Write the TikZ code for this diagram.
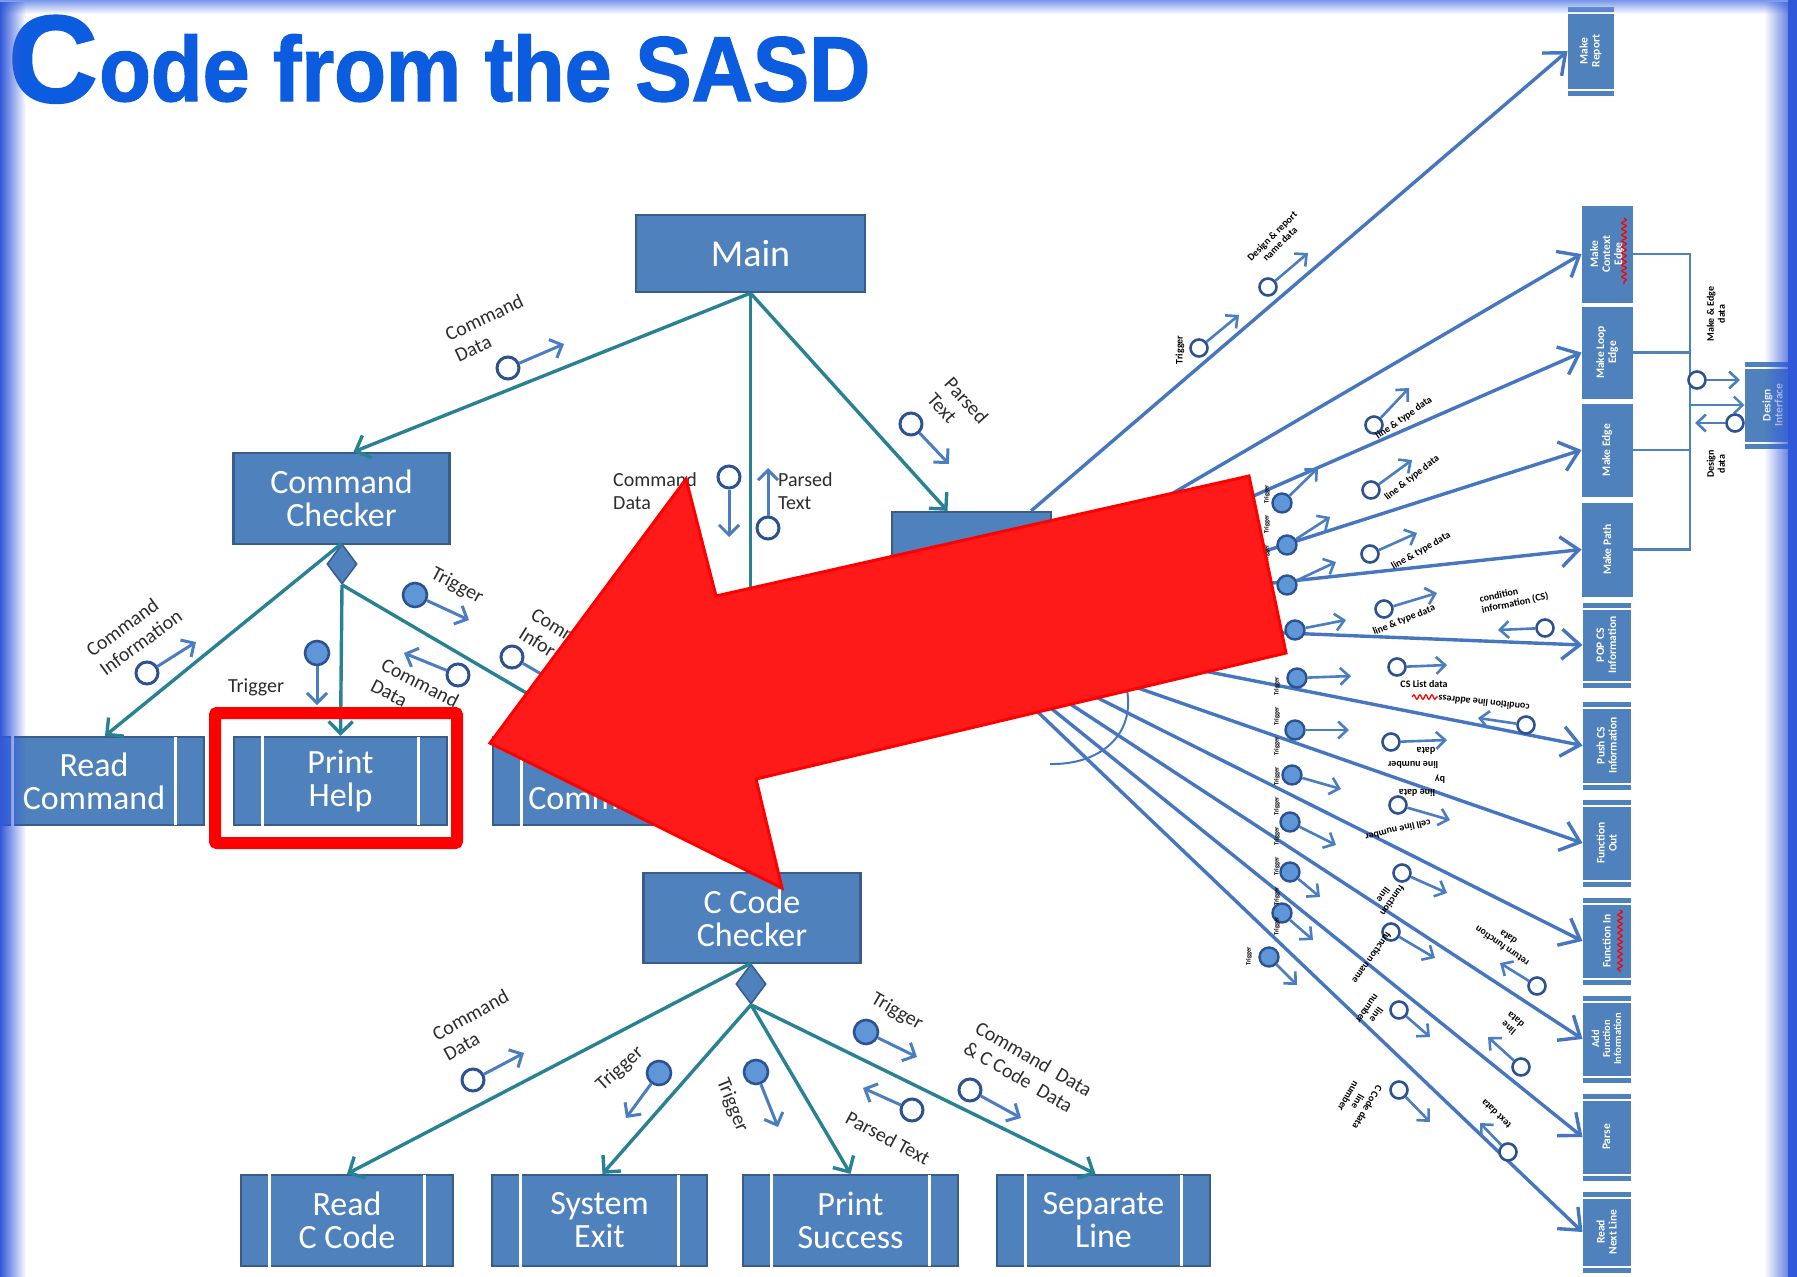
\documentclass[tikz,border=0pt]{standalone}
\usepackage{fontspec}
\setmainfont{Carlito}
\newfontfamily\headfont{Liberation Sans}[FakeBold=1.6]
\usetikzlibrary{arrows.meta,calc,fadings,shapes.geometric,decorations.pathmorphing}

\definecolor{boxfill}{RGB}{79,129,189}
\definecolor{boxedge}{RGB}{56,93,138}
\definecolor{linkteal}{RGB}{40,130,148}
\definecolor{couple}{RGB}{74,126,193}
\definecolor{ringedge}{RGB}{44,82,146}
\definecolor{ringfill}{RGB}{95,150,215}
\definecolor{fanline}{RGB}{70,118,192}
\definecolor{labelgray}{RGB}{45,45,45}
\definecolor{titleblue}{RGB}{12,92,224}
\definecolor{alertred}{RGB}{255,26,26}
\definecolor{edgeblue}{RGB}{50,88,218}
\definecolor{topblue}{RGB}{120,150,235}

\tikzset{
  procbox/.style={draw=boxedge, line width=2.2pt, fill=boxfill, text=white, align=center,
    inner sep=0pt, font=\fontsize{34}{33}\selectfont},
  sidebar/.style={draw=white, line width=3pt, shorten <=1.2pt, shorten >=1.2pt},
  decis/.style={shape=diamond, draw=boxedge, fill=boxfill, line width=1.6pt,
    minimum width=30pt, minimum height=40pt, inner sep=0pt},
  link/.style={draw=linkteal, line width=3.4pt, -{Straight Barb[length=12pt,width=24pt]}},
  fan/.style={draw=fanline, line width=3.4pt, -{Straight Barb[length=18pt,width=30pt]}},
  bus/.style={draw=boxfill, line width=2.4pt},
  ringopen/.style={circle, draw=ringedge, fill=white, line width=3pt, minimum size=22pt, inner sep=0pt},
  ringfull/.style={circle, draw=ringedge, fill=ringfill, line width=2.6pt, minimum size=24pt, inner sep=0pt},
  flow/.style={draw=couple, line width=3pt, -{Straight Barb[length=10pt,width=20pt]}},
  fanopen/.style={circle, draw=ringedge, fill=white, line width=2.6pt, minimum size=17pt, inner sep=0pt},
  fanfull/.style={circle, draw=ringedge, fill=ringfill, line width=2.4pt, minimum size=19pt, inner sep=0pt},
  fanflow/.style={draw=couple, line width=2.6pt, -{Straight Barb[length=9pt,width=17pt]}},
  lbl/.style={text=labelgray, inner sep=0pt, align=left, font=\fontsize{20}{23}\selectfont},
  tinylbl/.style={text=black, inner sep=0pt, align=center, font=\bfseries\fontsize{10}{11}\selectfont},
  triglbl/.style={text=black, inner sep=0pt, rotate=90, font=\bfseries\fontsize{6.5}{7}\selectfont},
  colbox/.style={draw=boxfill, line width=1pt, fill=boxfill, text=white, rotate=90, align=center,
    inner sep=0pt, font=\bfseries\fontsize{11.5}{12}\selectfont},
  typo/.style={draw=red, line width=1.3pt, decorate, decoration={snake, amplitude=2.2pt, segment length=6pt}},
}

% module box with the two inner side bars of a library module
\newcommand{\modbox}[5]{%
  \node[procbox, minimum width=#3pt, minimum height=#4pt] (#1) at (#2) {#5};
  \draw[sidebar] ([xshift=30pt]#1.north west) -- ([xshift=30pt]#1.south west)
                 ([xshift=-30pt]#1.north east) -- ([xshift=-30pt]#1.south east);
}
% horizontal bars at the ends of a rotated column module
\newcommand{\colbars}[1]{%
  \draw[draw=white, line width=2pt]
    ($(#1.north east)!6pt!(#1.north west)$) -- ($(#1.south east)!6pt!(#1.south west)$)
    ($(#1.north west)!6pt!(#1.north east)$) -- ($(#1.south west)!6pt!(#1.south east)$);
}
% data / control couple: name, ring position, arrow tip, ring style, arrow style
\newcommand{\couple}[5]{%
  \node[#4] (#1) at (#2) {};
  \coordinate (#1-tip) at (#3);
  \draw[#5] (#1) -- (#1-tip);
}

\begin{document}
\begin{tikzpicture}[x=1pt,y=-1pt]
\useasboundingbox (0,0) rectangle (1797,1277);
\fill[white] (0,0) rectangle (1797,1277);

% ---------------- modules of the left chart ----------------
\node[procbox, minimum width=229pt, minimum height=77pt, font=\fontsize{38}{38}\selectfont] (main) at (750.5,253.5) {Main};
\node[procbox, minimum width=216pt, minimum height=91pt] (cmdchk) at (341.5,498.5) {Command\\Checker};
\node[procbox, minimum width=159pt, minimum height=106pt] (parser) at (971.5,565) {};
\node[procbox, minimum width=217pt, minimum height=90pt] (ccc) at (752,918) {C Code\\Checker};

\modbox{readcmd}{94,781}{220}{88}{Read\\Command}
\modbox{printhelp}{340.5,781}{213}{88}{Print\\Help}
\modbox{chkcmd}{599.5,781}{213}{88}{\phantom{Command}\\Command}
\modbox{readc}{347,1220.5}{212}{91}{Read\\C Code}
\modbox{sysexit}{599.5,1220.5}{215}{91}{System\\Exit}
\modbox{psuccess}{850.5,1220.5}{215}{91}{Print\\Success}
\modbox{sepline}{1103.5,1220.5}{213}{91}{Separate\\Line}

\node[decis] (dm1) at (342,564) {};
\node[decis] (dm2) at (751,984) {};

% ---------------- calls of the left chart ----------------
\draw[link] (main.south) -- ([xshift=12pt]cmdchk.north);
\draw[link] (main.south) -- (main.south |- ccc.north);
\draw[link] (main.south) -- ([xshift=-24pt]parser.north);
\draw[link] (dm1.north) -- ([xshift=11pt]readcmd.north);
\draw[link] (dm1.south) -- (printhelp.north);
\draw[link] (dm1.south) -- (chkcmd.north);
\draw[link] (dm2.north) -- (readc.north);
\draw[link] (dm2.south) -- ([xshift=3pt]sysexit.north);
\draw[link] (dm2.south) -- (psuccess.north);
\draw[link] (dm2.south) -- ([xshift=-8pt]sepline.north);

% ---------------- couples of the left chart ----------------
\couple{cpa}{508,368}{564,344}{ringopen}{flow}
\couple{cpb}{729,477}{729,537}{ringopen}{flow}
\couple{cpc}{768,528}{768,468}{ringopen}{flow}
\couple{cpd}{911,424}{949,464}{ringopen}{flow}
\couple{cpe}{147,673}{196,642}{ringopen}{flow}
\couple{cpf}{317,653}{317,705}{ringfull}{flow}
\couple{cpg}{415,595}{469,620}{ringfull}{flow}
\couple{cph}{458,675}{404,653}{ringopen}{flow}
\couple{cpi}{512,657}{560,685}{ringopen}{flow}
\couple{cpj}{473,1080}{524,1053}{ringopen}{flow}
\couple{cpk}{659,1073}{626,1118}{ringfull}{flow}
\couple{cpl}{756,1072}{778,1127}{ringfull}{flow}
\couple{cpm}{912,1110}{863,1088}{ringopen}{flow}
\couple{cpn}{866,1032}{917,1057}{ringfull}{flow}
\couple{cpo}{970,1090}{1021,1118}{ringopen}{flow}

\node[lbl, rotate=25] (lcd1) at (489,328) {Command\\Data};
\node[lbl, anchor=north west] (lcd2) at (613,472) {Command\\Data};
\node[lbl, anchor=north west] (lpt1) at (778,472) {Parsed\\Text};
\node[lbl, rotate=-48] (lpt2) at (958,408) {Parsed\\Text};
\node[lbl, rotate=36] (lci1) at (134,633) {Command\\Information};
\node[lbl, anchor=base west] (ltg1) at (228,692) {Trigger};
\node[lbl, rotate=-28] (ltg2) at (457,586) {Trigger};
\node[lbl, rotate=-27] (lcd3) at (415,693) {Command\\Data};
\node[lbl, rotate=-32, anchor=north west] (lci2) at (537,606) {Command\\Information};
\node[lbl, rotate=29] (lcd4) at (476,1025) {Command\\Data};
\node[lbl, rotate=42] (ltg3) at (620,1069) {Trigger};
\node[lbl, rotate=-68] (ltg4) at (732,1105) {Trigger};
\node[lbl, rotate=-28] (lpt3) at (888,1138) {Parsed Text};
\node[lbl, rotate=-30] (ltg5) at (897,1012) {Trigger};
\node[lbl, rotate=-30] (lcd5) at (1028,1069) {Command~~Data\\\& C Code~~Data};

% ---------------- right column of modules ----------------
\node[colbox, minimum width=88pt, minimum height=45pt] (mkreport) at (1590.5,51) {Make\\Report};
\node[colbox, minimum width=96pt, minimum height=50pt] (ctxedge) at (1607,254) {Make\\Context\\Edge};
\node[colbox, minimum width=91pt, minimum height=50pt] (loopedge) at (1607,352.5) {Make Loop\\Edge};
\node[colbox, minimum width=92pt, minimum height=50pt] (mkedge) at (1607,450) {Make Edge};
\node[colbox, minimum width=93pt, minimum height=50pt] (mkpath) at (1607,549.5) {Make Path};
\node[colbox, minimum width=84pt, minimum height=47pt] (popcs) at (1606.5,645) {POP CS\\Information};
\node[colbox, minimum width=87pt, minimum height=47pt] (pushcs) at (1606.5,745.5) {Push CS\\Information};
\node[colbox, minimum width=86pt, minimum height=47pt] (fout) at (1606.5,843) {Function\\Out};
\node[colbox, minimum width=86pt, minimum height=47pt] (fin) at (1606.5,941) {Function In};
\node[colbox, minimum width=86pt, minimum height=47pt, font=\bfseries\fontsize{10.5}{11}\selectfont] (addfn) at (1606.5,1039) {Add\\Function\\Information};
\node[colbox, minimum width=86pt, minimum height=47pt] (parse) at (1606.5,1137) {Parse};
\node[colbox, minimum width=80pt, minimum height=47pt] (rnl) at (1606.5,1232) {Read\\Next Line};
\node[colbox, minimum width=86pt, minimum height=55pt] (design) at (1772.5,405) {Design\\Interface};
\foreach \m in {mkreport,popcs,pushcs,fout,fin,addfn,parse,rnl,design} {\colbars{\m}}

\draw[typo] (1624,218) -- (1624,284);
\draw[typo] (1620,910) -- (1620,972);

% bus from the edge makers to the design interface
\coordinate (busx) at (1690,255);
\draw[bus] (ctxedge.south) -- (ctxedge.south -| busx) -- (mkpath.south -| busx) -- (mkpath.south);
\draw[bus] (loopedge.south) -- (loopedge.south -| busx);
\draw[bus] (mkedge.south) -- (mkedge.south -| busx);
\draw[bus, -{Straight Barb[length=9pt,width=17pt]}] (design.north -| busx) -- (design.north);
\couple{mkdata}{1697,380}{1740,380}{fanopen}{fanflow}
\couple{dsdata}{1735,423}{1695,423}{fanopen}{fanflow}
\node[tinylbl, rotate=90] (lbmk) at (1716,314) {Make \& Edge\\data};
\node[tinylbl, rotate=90] (lbds) at (1716,464) {Design\\data};

% ---------------- calls fanning out of the parser ----------------
\coordinate (fanhub) at ($(parser.south)+(-31,0)$);
\draw[fan] ([xshift=-21pt]parser.north east) -- (mkreport.north);
\draw[fan] ($(parser.north east)+(0,53)$) -- (ctxedge.north);
\draw[fan] ($(parser.north east)+(0,73)$) -- (loopedge.north);
\draw[fan] (parser.south east) -- (mkedge.north);
\foreach \t in {mkpath,popcs,pushcs,fout,fin,addfn,parse,rnl} {\draw[fan] (fanhub) -- (\t.north);}
\draw[draw=fanline, line width=2pt] (1127,690) .. controls (1135,735) and (1100,765) .. (1050,764);

% control couples next to the parser
\couple{tg1}{1282,503}{1318,468}{fanfull}{fanflow}
\couple{tg2}{1287,545}{1330,517}{fanfull}{fanflow}
\couple{tg3}{1287,585}{1336,562}{fanfull}{fanflow}
\couple{tg4}{1295,630}{1346,620}{fanfull}{fanflow}
\couple{tg5}{1297,678}{1351,676}{fanfull}{fanflow}
\couple{tg6}{1295,730}{1349,730}{fanfull}{fanflow}
\couple{tg7}{1292,775}{1341,789}{fanfull}{fanflow}
\couple{tg8}{1290,822}{1336,845}{fanfull}{fanflow}
\couple{tg9}{1290,872}{1320,897}{fanfull}{fanflow}
\couple{tg10}{1282,913}{1313,940}{fanfull}{fanflow}
\couple{tg11}{1269,957}{1297,985}{fanfull}{fanflow}

% data couples along the fan
\couple{dr1}{1199,348}{1239,315}{fanopen}{fanflow}
\couple{dr2}{1268,287}{1308,253}{fanopen}{fanflow}
\couple{lt1}{1374,425}{1409,388}{fanopen}{fanflow}
\couple{lt2}{1371,490}{1412,460}{fanopen}{fanflow}
\couple{lt3}{1370,554}{1417,533}{fanopen}{fanflow}
\couple{lt4}{1384,609}{1437,593}{fanopen}{fanflow}
\couple{ci1}{1545,628}{1498,630}{fanopen}{fanflow}
\couple{cs1}{1397,667}{1447,665}{fanopen}{fanflow}
\couple{cl1}{1526,725}{1478,718}{fanopen}{fanflow}
\couple{ln1}{1391,742}{1447,740}{fanopen}{fanflow}
\couple{ln2}{1398,805}{1450,820}{fanopen}{fanflow}
\couple{fn1}{1402,873}{1447,893}{fanopen}{fanflow}
\couple{fn2}{1391,932}{1435,958}{fanopen}{fanflow}
\couple{rt1}{1537,986}{1500,963}{fanopen}{fanflow}
\couple{fn3}{1399,1010}{1430,1037}{fanopen}{fanflow}
\couple{ld1}{1521,1067}{1488,1037}{fanopen}{fanflow}
\couple{cc1}{1399,1090}{1430,1122}{fanopen}{fanflow}
\couple{td1}{1508,1152}{1480,1123}{fanopen}{fanflow}

% labels of the fan couples
\node[tinylbl, rotate=90] (ftrig) at (1180,350) {Trigger};
\node[tinylbl, rotate=45] (fdr) at (1276,240) {Design \& report\\name data};
\node[tinylbl, rotate=35] (flt1) at (1404,418) {line \& type data};
\node[tinylbl, rotate=38] (flt2) at (1412,478) {line \& type data};
\node[tinylbl, rotate=30] (flt3) at (1421,551) {line \& type data};
\node[tinylbl, rotate=22] (flt4) at (1404,620) {line \& type data};
\node[tinylbl, rotate=12, align=left] (fci) at (1514,598) {condition\\information (CS)};
\node[tinylbl] (fcs) at (1424,684) {CS List data};
\node[tinylbl, rotate=174] (fcl) at (1484,703) {condition line address};
\draw[typo] (1412,697) -- (1438,697);
\node[tinylbl, rotate=180] (fln1) at (1426,751) {data};
\node[tinylbl, rotate=180] (fln2) at (1413,765) {line number};
\node[tinylbl, rotate=180] (fln3) at (1440,779) {by};
\node[tinylbl, rotate=180] (fln4) at (1417,793) {line data};
\node[tinylbl, rotate=193] (fln5) at (1398,830) {cell line number};
\node[tinylbl, rotate=235] (ffn1) at (1388,898) {function\\line};
\node[tinylbl, rotate=235] (ffn2) at (1372,958) {function name};
\node[tinylbl, rotate=235] (ffn3) at (1372,1012) {line\\number};
\node[tinylbl, rotate=145] (frt) at (1505,942) {return function\\data};
\node[tinylbl, rotate=140] (fld) at (1512,1024) {line\\data};
\node[tinylbl, rotate=240] (fcc) at (1358,1102) {C Code data\\line\\number};
\node[tinylbl, rotate=136] (ftd) at (1496,1114) {text data};

% stacked trigger names beside the control couples
\foreach \yy [count=\k] in {494,524,554,584} {\node[triglbl] (tca\k) at (1267,\yy) {Trigger};}
\foreach \yy [count=\k] in {686,716,746,776,806,836,866,896,926} {\node[triglbl] (tcb\k) at (1277,\yy) {Trigger};}
\node[triglbl] (tcc) at (1249,956) {Trigger};

% ---------------- highlight ----------------
\draw[draw=red, line width=12pt, rounded corners=2pt] (215,713) rectangle (457,843);
\draw[draw=red, fill=alertred, line width=3pt, line join=miter]
  (490,743) -- (686,479) -- (716,596) -- (1249,476) -- (1286,653) -- (756,779) -- (782,888) -- cycle;

% ---------------- title ----------------
\node[anchor=base west, inner sep=0pt, text=titleblue, font=\headfont\bfseries\fontsize{124}{124}\selectfont] (titlecap) at (8,102) {C};
\node[anchor=base west, inner sep=0pt, text=titleblue, font=\headfont\bfseries\fontsize{92}{92}\selectfont, xscale=0.92] (titlerest) at (99,101) {ode from the SASD};

% ---------------- frame ----------------
\fill[topblue, path fading=south] (0,0) rectangle (1797,14);
\fill[edgeblue, path fading=east] (0,0) rectangle (26,1277);
\fill[edgeblue, path fading=west] (1764,0) rectangle (1797,1277);
\fill[edgeblue] (1788,0) rectangle (1797,1277);
\end{tikzpicture}
\end{document}
